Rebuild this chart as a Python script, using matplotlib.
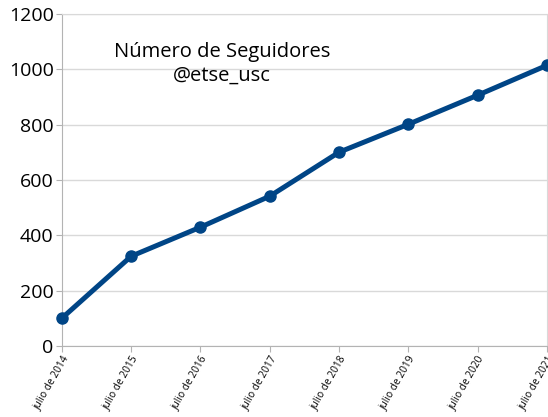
import numpy as np
import matplotlib
matplotlib.use('Agg')
import matplotlib.pyplot as plt

plt.rcParams['font.family'] = ['Open Sans', 'DejaVu Sans']

# ---------- data ----------
labels = ['julio de 2014', 'julio de 2015', 'julio de 2016', 'julio de 2017',
          'julio de 2018', 'julio de 2019', 'julio de 2020', 'julio de 2021']
seguidores = [101, 325, 430, 542, 701, 802, 907, 1015]

# ---------- plotting ----------
fig = plt.figure(figsize=(5.48, 4.17), dpi=100)
ax = fig.add_axes([0.113, 0.170, 0.885, 0.796])

x = np.arange(len(labels))
ax.plot(x, seguidores, color='#004586', linewidth=3.6, marker='o',
        markersize=8, solid_capstyle='round', zorder=3, clip_on=False)

ax.set_xlim(0, len(labels) - 1)
ax.set_ylim(0, 1200)
ax.set_yticks(np.arange(0, 1201, 200))
ax.set_xticks(x)
ax.set_xticklabels(labels, rotation=60, ha='right', rotation_mode='anchor',
                   fontsize=7.3)
ax.tick_params(axis='y', labelsize=14, length=4, color='#b3b3b3', pad=2)
ax.tick_params(axis='x', length=4, color='#b3b3b3', pad=2)

ax.grid(axis='y', color='#d9d9d9', linewidth=1)
ax.set_axisbelow(True)
for s in ax.spines.values():
    s.set_color('#d9d9d9')
ax.spines['left'].set_color('#b3b3b3')
ax.spines['bottom'].set_color('#b3b3b3')

ax.text(0.33, 0.85, 'Número de Seguidores\n@etse_usc', transform=ax.transAxes,
        ha='center', va='center', fontsize=14.5, linespacing=1.25)

fig.savefig('out.png', dpi=100)
